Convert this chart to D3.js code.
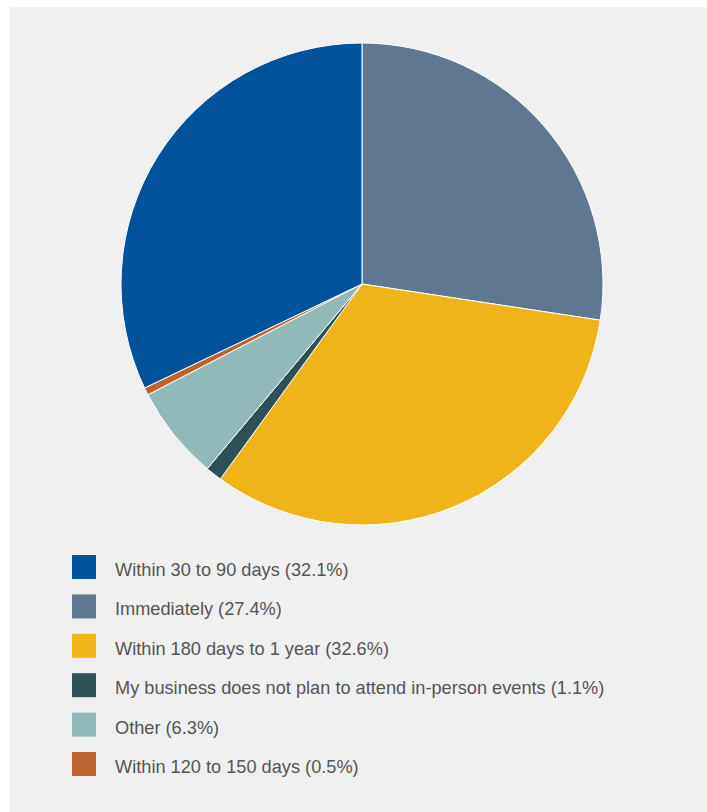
<!DOCTYPE html>
<html>
<head>
<meta charset="utf-8">
<script src="https://cdn.jsdelivr.net/npm/d3@7"></script>
<style>
  html, body { margin: 0; padding: 0; background: #ffffff; }
  svg { display: block; }
</style>
</head>
<body>
<svg id="chart" width="707" height="812"></svg>
<script>
// Survey answers, in legend order
const categories = [
  "Within 30 to 90 days",
  "Immediately",
  "Within 180 days to 1 year",
  "My business does not plan to attend in-person events",
  "Other",
  "Within 120 to 150 days"
];
const shares = [32.1, 27.4, 32.6, 1.1, 6.3, 0.5];
const colors = ["#00529b", "#5f7790", "#efb419", "#2e5059", "#92b9b9", "#c0622e"];
// Order in which the slices run clockwise from 12 o'clock
const sliceOrder = [1, 2, 3, 4, 5, 0];

const svg = d3.select("#chart");

svg.append("rect")
  .attr("x", 10).attr("y", 7)
  .attr("width", 697).attr("height", 805)
  .attr("fill", "#f0f0f0");

const data = categories.map((c, i) => ({ label: c, value: shares[i], color: colors[i] }));
const ordered = sliceOrder.map(i => data[i]);

const pie = d3.pie().sort(null).value(d => d.value);
const arc = d3.arc().innerRadius(0).outerRadius(241);

const g = svg.append("g").attr("transform", "translate(362,284)");
g.selectAll("path")
  .data(pie(ordered))
  .join("path")
  .attr("d", arc)
  .attr("fill", d => d.data.color)
  .attr("stroke", "#ffffff")
  .attr("stroke-width", 1)
  .attr("stroke-linejoin", "round");

// Legend
const legendY = d3.scaleBand().domain(d3.range(categories.length)).range([548, 548 + 6 * 39.4]);
const legend = svg.append("g");
const rows = legend.selectAll("g")
  .data(data)
  .join("g")
  .attr("transform", (d, i) => `translate(0,${legendY(i)})`);

rows.append("rect")
  .attr("x", 72).attr("y", 7)
  .attr("width", 24).attr("height", 24)
  .attr("fill", d => d.color);

rows.append("text")
  .attr("x", 115).attr("y", 28)
  .attr("font-family", "'Liberation Sans', Arial, Helvetica, sans-serif")
  .attr("font-size", 18.2)
  .attr("fill", "#555555")
  .text(d => `${d.label} (${d.value}%)`);
</script>
</body>
</html>
